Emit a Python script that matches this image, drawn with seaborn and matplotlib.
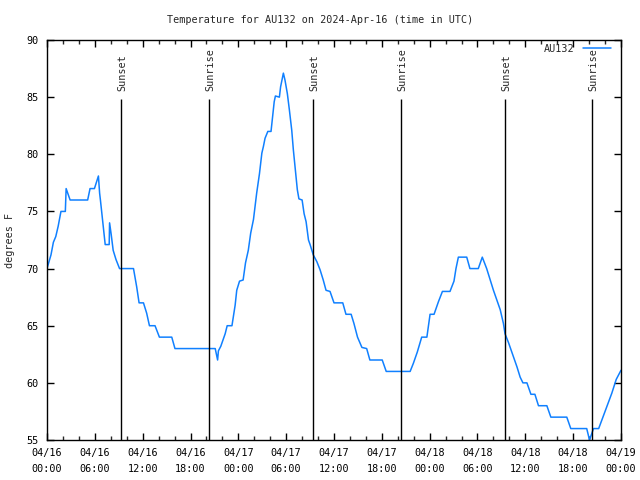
import matplotlib
matplotlib.use('Agg')
import matplotlib.pyplot as plt
import seaborn as sns
import pandas as pd
from matplotlib.ticker import MultipleLocator

# hours since 2024-04-16 00:00 UTC, temperature in F
hours = [0.0, 0.5, 0.8, 1.1, 1.4, 1.75, 2.3, 2.4, 2.9, 5.1, 5.4, 5.95, 6.45, 6.6, 6.7, 6.9,
         7.1, 7.3, 7.8, 7.85, 8.05, 8.3, 8.65, 9.1, 10.85, 11.25, 11.55, 12.1, 12.5, 12.85,
         13.55, 14.1, 15.65, 16.05, 21.1, 21.4, 21.5, 21.8, 22.35, 22.6, 23.2, 23.6, 23.8,
         24.15, 24.6, 24.9, 25.25, 25.55, 25.9, 26.3, 26.65, 26.95, 27.15, 27.35, 27.7, 28.1,
         28.3, 28.5, 28.65, 29.15, 29.3, 29.65, 29.85, 30.15, 30.4, 30.7, 30.9, 31.2, 31.4,
         31.6, 32.0, 32.25, 32.5, 32.8, 33.0, 33.4, 33.85, 34.25, 34.65, 35.0, 35.5, 36.0,
         37.1, 37.5, 38.15, 38.5, 38.95, 39.5, 40.1, 40.5, 42.05, 42.55, 45.55, 45.95, 46.45,
         47.0, 47.65, 48.05, 48.55, 49.1, 49.6, 50.55, 51.05, 51.3, 51.6, 52.65, 53.05, 54.1,
         54.6, 55.15, 55.6, 56.0, 56.4, 56.85, 57.25, 57.45, 57.9, 58.5, 58.95, 59.35, 59.7,
         60.2, 60.7, 61.2, 61.65, 62.7, 63.2, 65.2, 65.7, 67.7, 68.05, 68.25, 68.55, 69.2,
         69.6, 70.2, 70.85, 71.4, 72.0]
temps = [70.0, 71.2, 72.3, 72.8, 73.7, 75.0, 75.0, 77.0, 76.0, 76.0, 77.0, 77.0, 78.1, 76.6, 76.0, 74.7,
         73.4, 72.1, 72.1, 74.0, 73.0, 71.6, 70.8, 70.0, 70.0, 68.4, 67.0, 67.0, 66.1, 65.0,
         65.0, 64.0, 64.0, 63.0, 63.0, 62.0, 62.8, 63.2, 64.3, 65.0, 65.0, 66.8, 68.1,
         68.9, 69.0, 70.5, 71.6, 73.1, 74.3, 76.6, 78.3, 80.1, 80.7, 81.4, 82.0, 82.0,
         83.3, 84.6, 85.1, 85.0, 85.9, 87.1, 86.5, 85.3, 83.9, 82.1, 80.4, 78.3, 76.9,
         76.1, 76.0, 74.8, 74.1, 72.5, 72.1, 71.2, 70.6, 69.9, 69.0, 68.1, 68.0, 67.0,
         67.0, 66.0, 66.0, 65.2, 64.0, 63.1, 63.0, 62.0, 62.0, 61.0, 61.0, 61.7, 62.7,
         64.0, 64.0, 66.0, 66.0, 67.1, 68.0, 68.0, 68.9, 70.0, 71.0, 71.0, 70.0, 70.0,
         71.0, 70.0, 69.0, 68.1, 67.3, 66.4, 65.2, 64.3, 63.5, 62.3, 61.4, 60.5, 60.0,
         60.0, 59.0, 59.0, 58.0, 58.0, 57.0, 57.0, 56.0, 56.0, 55.0, 55.4, 56.0, 56.0,
         56.75, 57.9, 59.1, 60.3, 61.1]

sunset_hours = [9.32, 33.40, 57.49]
sunrise_hours = [20.36, 44.44, 68.40]

tick_hours = [0, 6, 12, 18, 24, 30, 36, 42, 48, 54, 60, 66, 72]
tick_labels = ['04/16\n00:00', '04/16\n06:00', '04/16\n12:00', '04/16\n18:00',
               '04/17\n00:00', '04/17\n06:00', '04/17\n12:00', '04/17\n18:00',
               '04/18\n00:00', '04/18\n06:00', '04/18\n12:00', '04/18\n18:00',
               '04/19\n00:00']
y_ticks = [55, 60, 65, 70, 75, 80, 85, 90]

title = 'Temperature for AU132 on 2024-Apr-16 (time in UTC)'
series_name = 'AU132'

sns.set_style('ticks')
plt.rcParams['font.family'] = ['DejaVu Sans Mono', 'DejaVu Sans']
plt.rcParams['font.size'] = 7

fig = plt.figure(figsize=(6.4, 4.8), dpi=100)
ax = fig.add_axes([47 / 640, 40 / 480, 574 / 640, 400 / 480])

df = pd.DataFrame({'hour': hours, 'temp': temps})
line_color = '#1080ff'
sns.lineplot(data=df, x='hour', y='temp', ax=ax, color=line_color, lw=1.1,
             estimator=None, sort=False, label=series_name)

for h in sunset_hours:
    ax.vlines(h, 55, 84.8, color='black', lw=1)
    ax.text(h + 0.15, 85.5, 'Sunset', rotation=90, ha='center', va='bottom', fontsize=7.3)
for h in sunrise_hours:
    ax.vlines(h, 55, 84.8, color='black', lw=1)
    ax.text(h + 0.15, 85.5, 'Sunrise', rotation=90, ha='center', va='bottom', fontsize=7.3)

ax.set_xlim(0, 72)
ax.set_ylim(55, 90)
ax.set_xticks(tick_hours)
ax.set_xticklabels(tick_labels)
ax.xaxis.set_minor_locator(MultipleLocator(2))
ax.set_yticks(y_ticks)
ax.set_yticklabels([str(v) for v in y_ticks])
for lab in ax.get_xticklabels():
    lab.set_linespacing(1.75)

ax.tick_params(axis='both', which='major', direction='in', length=5, width=1,
               top=True, right=True, labelsize=7.3, colors='black')
ax.tick_params(axis='x', which='minor', direction='in', length=3, width=1, top=True)
ax.tick_params(axis='x', which='major', pad=6)
ax.tick_params(axis='y', which='major', pad=6)
for s in ax.spines.values():
    s.set_visible(True)
    s.set_linewidth(1)
    s.set_color('black')

ax.set_xlabel('')
ax.set_ylabel('')
fig.text(10 / 640, 1 - 240 / 480, 'degrees F', rotation=90, ha='center', va='center', fontsize=7.3)
fig.text(0.5, 1 - 20 / 480, title, ha='center', va='center', fontsize=7.3)

leg = ax.legend(loc='upper right', bbox_to_anchor=(1 - 8 / 574, 1 - 2 / 400), frameon=False,
                markerfirst=False, handlelength=2.8, fontsize=7.3, borderaxespad=0,
                borderpad=0.2, handletextpad=0.8)

fig.savefig('out.png', dpi=100)
